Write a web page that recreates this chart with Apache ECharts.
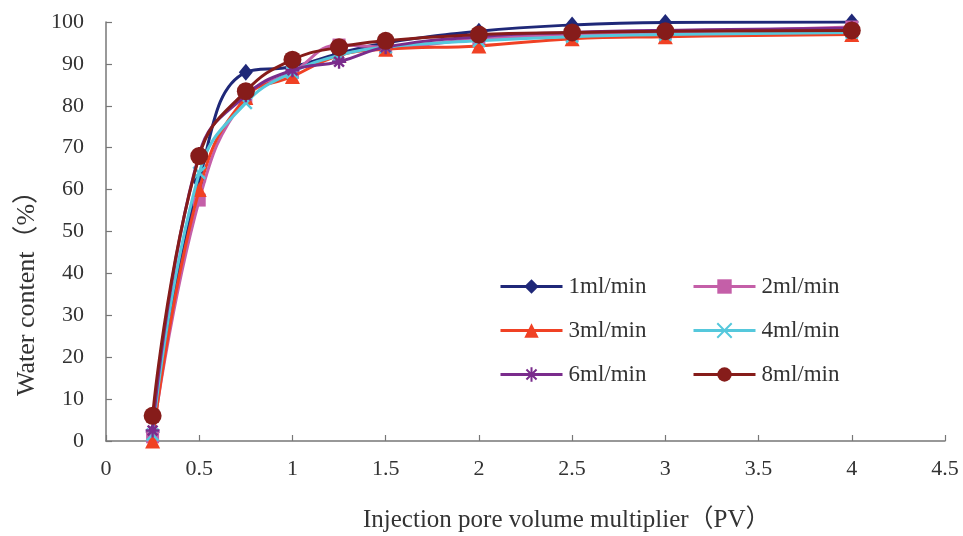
<!DOCTYPE html>
<html>
<head>
<meta charset="utf-8">
<script src="https://cdn.jsdelivr.net/npm/echarts@6/dist/echarts.min.js"></script>
<style>html,body{margin:0;padding:0;background:#fff}#c{width:963px;height:536px}</style>
</head>
<body>
<div id="c"></div>
<script>
const pv = [0.25, 0.5, 0.75, 1, 1.25, 1.5, 2, 2.5, 3, 4];
const seriesNames = ['1ml/min', '2ml/min', '3ml/min', '4ml/min', '6ml/min', '8ml/min'];
const s1 = [2, 62, 88, 89.3, 92.5, 95, 97.8, 99.3, 99.9, 100];
const s2 = [1, 57.5, 82, 88, 94.5, 94, 96, 97, 97.5, 98.8];
const s3 = [0, 60, 82, 87, 92, 93.5, 94.3, 96, 96.5, 97];
const s4 = [1.5, 64, 80.7, 88, 92, 94, 95.5, 96.5, 97, 97.5];
const s5 = [2.5, 68.5, 82.5, 88.5, 90.5, 94, 96.5, 97.5, 98, 98.5];
const s6 = [6, 68, 83.5, 91, 94, 95.5, 97, 97.5, 97.8, 98];
const xTicks = { min: 0, max: 4.5, interval: 0.5 };
const yTicks = { min: 0, max: 100, interval: 10 };

const values = [s1, s2, s3, s4, s5, s6];
const colors = ['#1f2878', '#c45fa8', '#f04124', '#55c8dc', '#7a2c8c', '#861c1a'];
const symbols = [
  'diamond', 'rect', 'triangle',
  'path://M0,0L10,10M10,0L0,10',
  'path://M5,0L5,10M0,5L10,5M1.5,1.5L8.5,8.5M8.5,1.5L1.5,8.5',
  'circle'
];
const sizes = [[14, 17], 13, 15, 12, 14, 18];
const strokeSym = [false, false, false, true, true, false];
const font = '"Liberation Serif", "Noto Sans CJK SC", serif';

const series = values.map((v, i) => ({
  name: seriesNames[i],
  type: 'line',
  smooth: 0.45,
  data: v.map((y, j) => [pv[j], y]),
  symbol: symbols[i],
  symbolSize: sizes[i],
  showAllSymbol: true,
  lineStyle: { color: colors[i], width: 3 },
  itemStyle: strokeSym[i]
    ? { color: colors[i], borderColor: colors[i], borderWidth: 2.4, opacity: 1 }
    : { color: colors[i], borderWidth: 0, opacity: 1 },
  emphasis: { disabled: true },
  z: 2 + i
}));

const legendBase = {
  orient: 'vertical',
  padding: 0,
  itemWidth: 62,
  itemHeight: 18,
  itemGap: 21,
  lineStyle: { width: 3 },
  textStyle: { fontFamily: font, fontSize: 23, color: '#333', padding: [0, 0, 0, 1] },
  selectedMode: false
};

const chart = echarts.init(document.getElementById('c'));
chart.setOption({
  animation: false,
  backgroundColor: '#fff',
  grid: { left: 106, right: 18, top: 22, bottom: 95, containLabel: false },
  xAxis: {
    type: 'value', min: xTicks.min, max: xTicks.max, interval: xTicks.interval,
    axisLine: { show: true, lineStyle: { color: '#777', width: 1.5 } },
    axisTick: { show: true, inside: true, length: 6, lineStyle: { color: '#777', width: 1.2 } },
    splitLine: { show: false },
    axisLabel: { fontFamily: font, fontSize: 22, color: '#333', margin: 17, showMinLabel: true, showMaxLabel: true }
  },
  yAxis: {
    type: 'value', min: yTicks.min, max: yTicks.max, interval: yTicks.interval,
    axisLine: { show: true, lineStyle: { color: '#777', width: 1.5 } },
    axisTick: { show: true, inside: true, length: 6, lineStyle: { color: '#777', width: 1.2 } },
    splitLine: { show: false },
    axisLabel: { fontFamily: font, fontSize: 22, color: '#333', margin: 22 }
  },
  legend: [
    Object.assign({}, legendBase, { left: 499, top: 275, data: [seriesNames[0], seriesNames[2], seriesNames[4]] }),
    Object.assign({}, legendBase, { left: 692, top: 275, data: [seriesNames[1], seriesNames[3], seriesNames[5]] })
  ],
  graphic: [
    { type: 'text', x: 363, y: 520,
      style: { text: 'Injection pore volume multiplier（PV）', font: '25px ' + font, fill: '#333', align: 'left', verticalAlign: 'middle' } },
    { type: 'text', x: 27, y: 396, rotation: Math.PI / 2,
      style: { text: 'Water content（%）', font: '26px ' + font, fill: '#333', align: 'left', verticalAlign: 'middle' } }
  ],
  series: series
});
</script>
</body>
</html>
